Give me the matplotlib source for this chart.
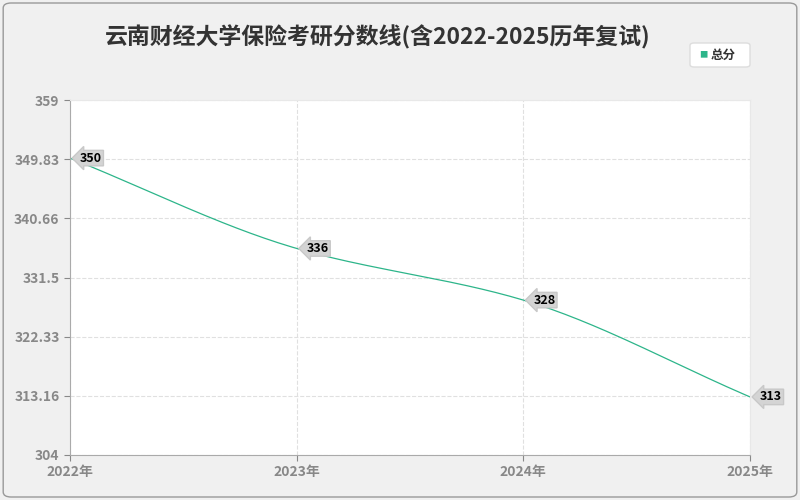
import numpy as np
import matplotlib
matplotlib.use("Agg")
import matplotlib.pyplot as plt
from matplotlib.patches import FancyBboxPatch

plt.rcParams['font.family'] = ['Noto Sans CJK SC', 'DejaVu Sans']

years = ["2022年", "2023年", "2024年", "2025年"]
scores = [350, 336, 328, 313]
yticks = [304, 313.16, 322.33, 331.5, 340.66, 349.83, 359]
title = "云南财经大学保险考研分数线(含2022-2025历年复试)"
color = "#2db58a"

fig = plt.figure(figsize=(8, 5), dpi=100, facecolor="#f0f0f0")
fig.patches.append(FancyBboxPatch((0.004, 0.006), 0.992, 0.988, boxstyle="round,pad=0,rounding_size=0.01",
                                  transform=fig.transFigure, fill=False, edgecolor="#999999", lw=1))
ax = fig.add_axes([70/800, 45/500, 680/800, 355/500])
ax.set_facecolor("white")
x = np.arange(len(scores))

y = np.array(scores, float)
d = np.diff(y)
m = np.zeros_like(y)
m[0], m[-1] = d[0], d[-1]
for i in range(1, len(y)-1):
    m[i] = 0 if d[i-1]*d[i] <= 0 else 2/(1/d[i-1]+1/d[i])
xs, ys = [], []
for i in range(len(y)-1):
    t = np.linspace(0, 1, 50)
    h00 = 2*t**3-3*t**2+1; h10 = t**3-2*t**2+t; h01 = -2*t**3+3*t**2; h11 = t**3-t**2
    xs.extend(i+t); ys.extend(h00*y[i]+h10*m[i]+h01*y[i+1]+h11*m[i+1])
ax.plot(xs, ys, color=color, lw=0.9)

for xi, v in zip(x, scores):
    ax.text(xi+0.045, v, str(v), fontsize=9, fontweight="bold", va="center", ha="left",
            bbox=dict(boxstyle="larrow,pad=0.1", fc="#d4d4d4", ec="#c8c8c8"), zorder=5)

ax.set_xlim(0, 3)
ax.set_ylim(304, 359)
ax.set_xticks(x)
ax.set_xticklabels(years)
ax.set_yticks(yticks)
ax.set_yticklabels(["304", "313.16", "322.33", "331.5", "340.66", "349.83", "359"])
ax.tick_params(colors="#888888", labelsize=10, length=4)
for lab in ax.get_xticklabels() + ax.get_yticklabels():
    lab.set_color("#888888")
    lab.set_fontweight("bold")
ax.grid(True, color="#e0e0e0", ls="--", lw=0.8)
for s in ["top", "right"]:
    ax.spines[s].set_color("#e8e8e8")
for s in ["left", "bottom"]:
    ax.spines[s].set_color("#aaaaaa")

fig.text(378/800, 1-37/500, title, fontsize=16.5, fontweight="bold", ha="center", va="center", color="#333333")
fig.patches.append(FancyBboxPatch((690/800, 1-67/500), 60/800, 24/500, boxstyle="round,pad=0,rounding_size=0.005",
                                  transform=fig.transFigure, fc="white", ec="#dddddd"))
fig.text(703/800, 1-55/500, "■", color=color, fontsize=6, va="center", ha="center")
fig.text(711/800, 1-55/500, "总分", fontsize=9, fontweight="bold", va="center", ha="left", color="#333333")

fig.savefig("out.png", dpi=100, facecolor=fig.get_facecolor())
